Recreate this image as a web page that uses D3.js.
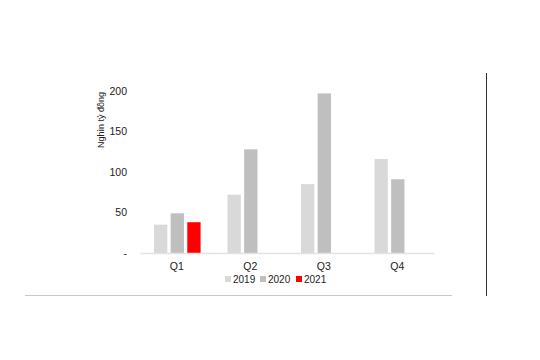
<!DOCTYPE html>
<html>
  <head>
    <meta charset="utf-8">
    <script src="https://d3js.org/d3.v7.min.js" charset="utf-8"></script>
    <style>
    body {
      margin: 0;
      background-color: #fff;
    }
    svg text {
      font-family: "Liberation Sans Narrow", "Arial Narrow", "Liberation Sans", Arial, sans-serif;
      fill: #222;
    }
    </style>
    <title>Nghìn tỷ đồng</title>
  </head>
  <body>
    <div class="chart"></div>
    <script>

      var quarters = ["Q1", "Q2", "Q3", "Q4"];
      var years = ["2019", "2020", "2021"];
      var values2019 = [35, 72, 85, 116];
      var values2020 = [49, 128, 197, 91];
      var values2021 = [38, null, null, null];
      var yTicks = [0, 50, 100, 150, 200];

      var series = [values2019, values2020, values2021];
      var colors = ["#d9d9d9", "#bfbfbf", "#ff0000"];

      var width = 540, height = 360;

      var svg = d3.select(".chart").append("svg")
          .attr("width", width)
          .attr("height", height);

      var x0 = d3.scaleBand()
          .domain(quarters)
          .range([140, 434]);

      var x1 = d3.scaleBand()
          .domain(years)
          .range([14, 60.6])
          .paddingInner(0.2);

      var y = d3.scaleLinear()
          .domain([0, 200])
          .range([253, 91]);

      var color = d3.scaleOrdinal()
          .domain(years)
          .range(colors);

      // bars
      var groups = svg.append("g")
        .selectAll("g")
        .data(quarters)
        .enter().append("g")
          .attr("transform", function(d) { return "translate(" + x0(d) + ",0)"; });

      groups.selectAll("rect")
        .data(function(d, i) {
          return years.map(function(yr, j) { return {key: yr, value: series[j][i]}; })
            .filter(function(e) { return e.value != null; });
        })
        .enter().append("rect")
          .attr("x", function(d) { return x1(d.key); })
          .attr("y", function(d) { return y(d.value); })
          .attr("width", x1.bandwidth())
          .attr("height", function(d) { return y(0) - y(d.value); })
          .attr("fill", function(d) { return color(d.key); });

      // x axis
      var xAxis = svg.append("g")
          .attr("transform", "translate(0," + y(0) + ")")
          .call(d3.axisBottom(x0).tickSize(0).tickPadding(10));
      xAxis.select(".domain").attr("stroke", "#e3e3e3").attr("stroke-width", 1.5);
      xAxis.selectAll("text").attr("font-size", 10.5);

      // y axis
      var yAxis = svg.append("g")
          .attr("transform", "translate(131,0)")
          .call(d3.axisLeft(y).tickValues(yTicks).tickSize(0).tickPadding(4)
            .tickFormat(function(d) { return d === 0 ? "-" : d; }));
      yAxis.select(".domain").remove();
      yAxis.selectAll("text").attr("font-size", 10.5);

      svg.append("text")
          .attr("transform", "translate(104,120) rotate(-90)")
          .attr("text-anchor", "middle")
          .attr("font-size", 9)
          .text("Nghìn tỷ đồng");

      // legend
      var legendX = [225, 260, 296];
      var legend = svg.append("g")
        .selectAll("g")
        .data(years)
        .enter().append("g")
          .attr("transform", function(d, i) { return "translate(" + legendX[i] + ",279)"; });

      legend.append("rect")
          .attr("y", -3)
          .attr("width", 6)
          .attr("height", 6)
          .attr("fill", color);

      legend.append("text")
          .attr("x", 8)
          .attr("dy", "0.35em")
          .attr("font-size", 10)
          .text(function(d) { return d; });

      // frame lines
      svg.append("line")
          .attr("x1", 25).attr("x2", 452)
          .attr("y1", 295.5).attr("y2", 295.5)
          .attr("stroke", "#c8c8c8")
          .attr("stroke-width", 1);

      svg.append("line")
          .attr("x1", 486.5).attr("x2", 486.5)
          .attr("y1", 73).attr("y2", 296)
          .attr("stroke", "#333")
          .attr("stroke-width", 1);

    </script>
  </body>
</html>
